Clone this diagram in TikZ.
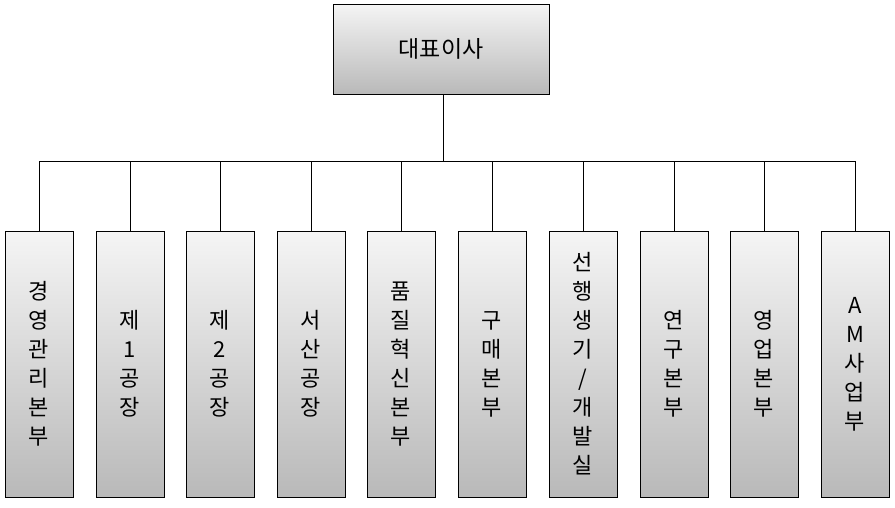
\documentclass[tikz,border=0pt]{standalone}
\usepackage{fontspec}
\setmainfont{Noto Sans CJK KR}
\begin{document}
\begin{tikzpicture}
  [x=1pt,y=-1pt,
   unitbox/.style={draw=black,top color=gray!8,bottom color=gray!55,minimum width=68pt,
     minimum height=266pt,align=center,font=\fontsize{22}{29}\selectfont,inner sep=0pt},
   ceobox/.style={draw=black,top color=gray!8,bottom color=gray!55,minimum width=216pt,
     minimum height=90pt,font=\fontsize{23}{27}\selectfont}]
  \useasboundingbox (0,0) rectangle (895,507);
  \node[ceobox] (ceo) at (441,49) {대표이사};
  \coordinate (bus) at (443,161);
  \draw (ceo.south -| bus) -- (bus);
  \foreach \i/\x/\txt in {1/39/{경\\영\\관\\리\\본\\부}, 2/130/{제\\1\\공\\장}, 3/220/{제\\2\\공\\장},
      4/311/{서\\산\\공\\장}, 5/401/{품\\질\\혁\\신\\본\\부}, 6/492/{구\\매\\본\\부},
      7/583/{\fontsize{22}{25}\selectfont 선\\행\\생\\기\\/\\개\\발\\실}, 8/674/{연\\구\\본\\부},
      9/764/{영\\업\\본\\부}, 10/855/{A\\M\\사\\업\\부}}
    \node[unitbox] (u\i) at (\x,364) {\txt};
  \draw (u1.north |- bus) -- (u10.north |- bus);
  \foreach \i in {1,...,10}
    \draw (u\i.north |- bus) -- (u\i.north);
\end{tikzpicture}
\end{document}
